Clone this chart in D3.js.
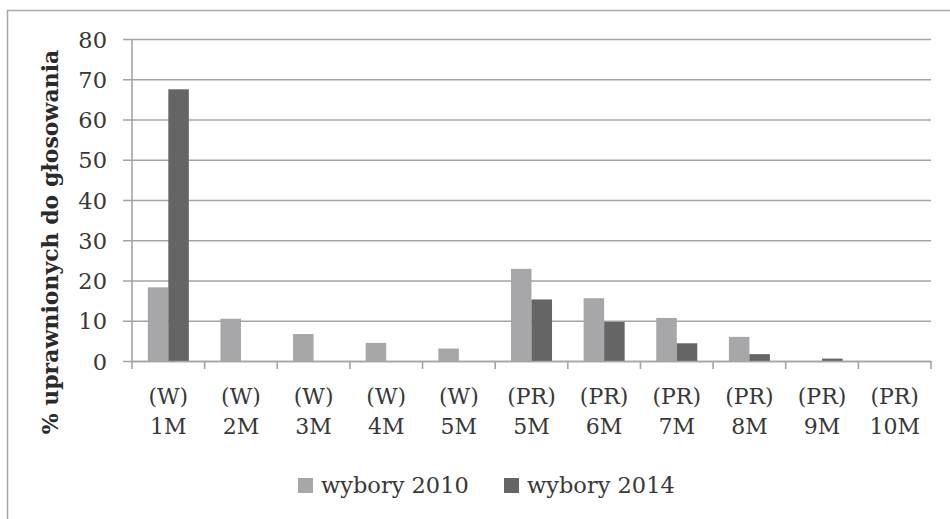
<!DOCTYPE html>
<html lang="pl">
<head>
    <meta charset="UTF-8">
    <title>% uprawnionych do głosowania</title>
    <script src="https://cdnjs.cloudflare.com/ajax/libs/d3/7.8.5/d3.min.js"></script>
    <style>
        body { margin: 0; padding: 0; background: #fff; }
        svg { display: block; font-family: "DejaVu Serif", serif; }
    </style>
</head>
<body>
    <div id="chart"></div>
    <script>
        // data
        const topLabels = ["(W)", "(W)", "(W)", "(W)", "(W)", "(PR)", "(PR)", "(PR)", "(PR)", "(PR)", "(PR)"];
        const bottomLabels = ["1M", "2M", "3M", "4M", "5M", "5M", "6M", "7M", "8M", "9M", "10M"];
        const values2010 = [18.3, 10.5, 6.7, 4.5, 3.1, 22.9, 15.6, 10.7, 6.0, 0, 0];
        const values2014 = [67.5, 0, 0, 0, 0, 15.3, 9.7, 4.4, 1.7, 0.6, 0];
        const seriesNames = ["wybory 2010", "wybory 2014"];
        const seriesColors = ["#a7a7a9", "#656565"];
        const yTicks = [0, 10, 20, 30, 40, 50, 60, 70, 80];

        const width = 950, height = 519;
        const margin = { top: 39, right: 19, bottom: 158, left: 132 };
        const textColor = "#383838";

        const svg = d3.select("#chart").append("svg")
            .attr("width", width)
            .attr("height", height);

        // outer frame (top and left edges only visible)
        svg.append("path")
            .attr("d", `M7.5,${height} V10.5 H${width}`)
            .attr("fill", "none")
            .attr("stroke", "#a8a8a8")
            .attr("stroke-width", 1.5);

        const cats = d3.range(topLabels.length);
        const x = d3.scaleBand()
            .domain(cats)
            .range([margin.left, width - margin.right])
            .paddingInner(0).paddingOuter(0);
        const x1 = d3.scaleBand()
            .domain([0, 1])
            .range([0, x.bandwidth()])
            .paddingOuter(0.77).paddingInner(0);
        const y = d3.scaleLinear()
            .domain([0, 80])
            .range([height - margin.bottom, margin.top]);

        // gridlines + y ticks
        const yAxis = svg.append("g")
            .attr("transform", `translate(${margin.left},0)`)
            .call(d3.axisLeft(y).tickValues(yTicks).tickSize(9).tickPadding(16));
        yAxis.select(".domain").remove();
        yAxis.selectAll(".tick line")
            .attr("x2", width - margin.right - margin.left)
            .attr("x1", -9)
            .attr("stroke", "#a4a4a4")
            .attr("stroke-width", 1.6);
        yAxis.selectAll(".tick text")
            .attr("font-size", 22.5)
            .attr("dy", "0.36em")
            .attr("fill", textColor)
            .attr("font-family", "DejaVu Serif, serif");

        // y axis line
        svg.append("line")
            .attr("x1", margin.left).attr("x2", margin.left)
            .attr("y1", y(80)).attr("y2", y(0))
            .attr("stroke", "#a4a4a4").attr("stroke-width", 1.6);

        // bars
        const series = [values2010, values2014];
        series.forEach((vals, s) => {
            svg.append("g").selectAll("rect")
                .data(vals)
                .join("rect")
                .attr("x", (d, i) => x(i) + x1(s))
                .attr("width", x1.bandwidth())
                .attr("y", d => y(d))
                .attr("height", d => y(0) - y(d))
                .attr("fill", seriesColors[s]);
        });

        // x axis
        const xAxis = svg.append("g")
            .attr("transform", `translate(0,${y(0)})`)
            .call(d3.axisBottom(x).tickValues([]).tickSizeOuter(0));
        xAxis.select(".domain").attr("stroke", "#a4a4a4").attr("stroke-width", 1.6);
        const edges = cats.map(i => x(i)).concat([x(cats.length - 1) + x.bandwidth()]);
        xAxis.selectAll(".edge")
            .data(edges)
            .join("line")
            .attr("x1", d => d).attr("x2", d => d)
            .attr("y1", 0).attr("y2", 8)
            .attr("stroke", "#a4a4a4").attr("stroke-width", 1.6);

        const xl = svg.append("g").selectAll("text")
            .data(cats)
            .join("text")
            .attr("x", i => x(i) + x.bandwidth() / 2)
            .attr("text-anchor", "middle")
            .attr("font-size", 22)
            .attr("fill", textColor);
        xl.append("tspan")
            .attr("x", i => x(i) + x.bandwidth() / 2)
            .attr("y", 404)
            .text(i => topLabels[i]);
        xl.append("tspan")
            .attr("x", i => x(i) + x.bandwidth() / 2)
            .attr("y", 434)
            .text(i => bottomLabels[i]);

        // y title
        svg.append("text")
            .attr("transform", `translate(58,242) rotate(-90)`)
            .attr("text-anchor", "middle")
            .attr("font-size", 22)
            .attr("font-weight", "bold")
            .attr("fill", "#2a2a2a")
            .text("% uprawnionych do głosowania");

        // legend
        const legendX = [298, 504];
        const legend = svg.append("g").selectAll("g")
            .data(seriesNames)
            .join("g")
            .attr("transform", (d, i) => `translate(${legendX[i]},478)`);
        legend.append("rect")
            .attr("width", 15).attr("height", 15)
            .attr("fill", (d, i) => seriesColors[i]);
        legend.append("text")
            .attr("x", 23).attr("y", 15)
            .attr("font-size", 22.5)
            .attr("fill", textColor)
            .text(d => d);
    </script>
</body>
</html>
